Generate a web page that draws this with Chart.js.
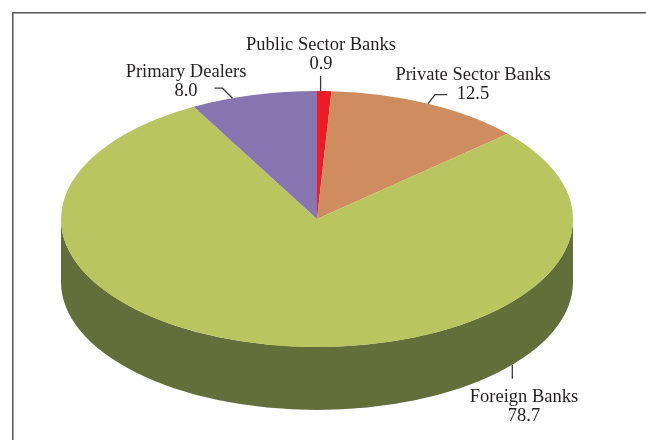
<!DOCTYPE html>
<html>
<head>
<meta charset="utf-8">
<script src="https://cdn.jsdelivr.net/npm/chart.js@4.4.1/dist/chart.umd.min.js"></script>
<style>
  html, body { margin: 0; padding: 0; background: #fff; }
  #wrap { width: 646px; height: 440px; position: relative; }
</style>
</head>
<body>
<div id="wrap"><canvas id="myChart"></canvas></div>
<script>
// holdings by category, per cent
const categories = ['Public Sector Banks', 'Private Sector Banks', 'Foreign Banks', 'Primary Dealers'];
const shares = [0.9, 12.5, 78.7, 8.0];
const valueLabels = ['0.9', '12.5', '78.7', '8.0'];

const topColors = ['#ed1c24', '#cf8d5f', '#b9c55f', '#8675b0'];
const sideColors = ['#a8141a', '#8f5f3c', '#636e3a', '#5b4e7d'];

// ellipse look: x stretched 2x, side wall depth in px
const stretch = 2;
const depth = 63;

// label placement: t = where along the slice the leader starts,
// onSide = start on the lower rim, leg = leader polyline offsets, text = centre of label block
const labelLayout = [
  { t: 0.25, onSide: false, leg: [[0, -15]], text: [321, 45] },
  { t: 0.5, onSide: false, leg: [[7, -9], [19, -9]], text: [473, 75] },
  { t: 0.29, onSide: true, leg: [[0, 14]], text: [524, 397] },
  { t: 0.33, onSide: false, leg: [[-10, -10], [-18, -10]], text: [186, 72] }
];

function frontSpans(s, e) {
  // parts of [s, e] that face the viewer (canvas angles 0..PI)
  const out = [];
  for (const off of [-2 * Math.PI, 0, 2 * Math.PI]) {
    const a = Math.max(s, off), b = Math.min(e, off + Math.PI);
    if (b > a) out.push([a, b]);
  }
  return out;
}

const frame = {
  id: 'frame',
  beforeDraw(chart) {
    const ctx = chart.ctx;
    ctx.save();
    ctx.strokeStyle = '#555';
    ctx.lineWidth = 1.5;
    ctx.beginPath();
    ctx.moveTo(646, 12.75);
    ctx.lineTo(12.75, 12.75);
    ctx.lineTo(12.75, 440);
    ctx.stroke();
    ctx.restore();
  }
};

const pie3d = {
  id: 'pie3d',
  beforeDatasetsDraw(chart) {
    const meta = chart.getDatasetMeta(0);
    const first = meta.data[0];
    const cx = first.x, cy = first.y, r = first.outerRadius;
    const ctx = chart.ctx;
    ctx.save();
    ctx.translate(cx, cy);
    ctx.scale(stretch, 1);
    ctx.translate(-cx, -cy);
    // side wall of the disc
    meta.data.forEach((arc, i) => {
      frontSpans(arc.startAngle, arc.endAngle).forEach(([a, b]) => {
        ctx.beginPath();
        ctx.arc(cx, cy, r, a, b);
        ctx.lineTo(cx + r * Math.cos(b), cy + r * Math.sin(b) + depth);
        ctx.arc(cx, cy + depth, r, b, a, true);
        ctx.closePath();
        ctx.fillStyle = sideColors[i];
        ctx.fill();
      });
    });
  },
  afterDatasetsDraw(chart) {
    chart.ctx.restore();
  },
  afterDraw(chart) {
    const meta = chart.getDatasetMeta(0);
    const ctx = chart.ctx;
    ctx.save();
    ctx.strokeStyle = '#3a3a3a';
    ctx.lineWidth = 1.3;
    ctx.fillStyle = '#231f20';
    ctx.font = '18.5px "Liberation Serif"';
    ctx.textAlign = 'center';
    ctx.textBaseline = 'middle';
    meta.data.forEach((arc, i) => {
      const lay = labelLayout[i];
      const ang = arc.startAngle + (arc.endAngle - arc.startAngle) * lay.t;
      const px = arc.x + arc.outerRadius * stretch * Math.cos(ang);
      const py = arc.y + arc.outerRadius * Math.sin(ang) + (lay.onSide ? depth : 0);
      ctx.beginPath();
      ctx.moveTo(px, py);
      lay.leg.forEach(([dx, dy]) => ctx.lineTo(px + dx, py + dy));
      ctx.stroke();
      ctx.fillText(categories[i], lay.text[0], lay.text[1]);
      ctx.fillText(valueLabels[i], lay.text[0], lay.text[1] + 19);
    });
    ctx.restore();
  }
};

const config = {
  type: 'pie',
  data: {
    labels: categories,
    datasets: [{
      data: shares,
      backgroundColor: topColors,
      borderWidth: 0,
      clip: false
    }]
  },
  options: {
    responsive: true,
    maintainAspectRatio: false,
    animation: false,
    events: [],
    layout: { padding: { top: 91, bottom: 93, left: 61, right: 73 } },
    plugins: {
      legend: { display: false },
      tooltip: { enabled: false }
    }
  },
  plugins: [frame, pie3d]
};

const myChart = new Chart(document.getElementById('myChart'), config);
</script>
</body>
</html>
